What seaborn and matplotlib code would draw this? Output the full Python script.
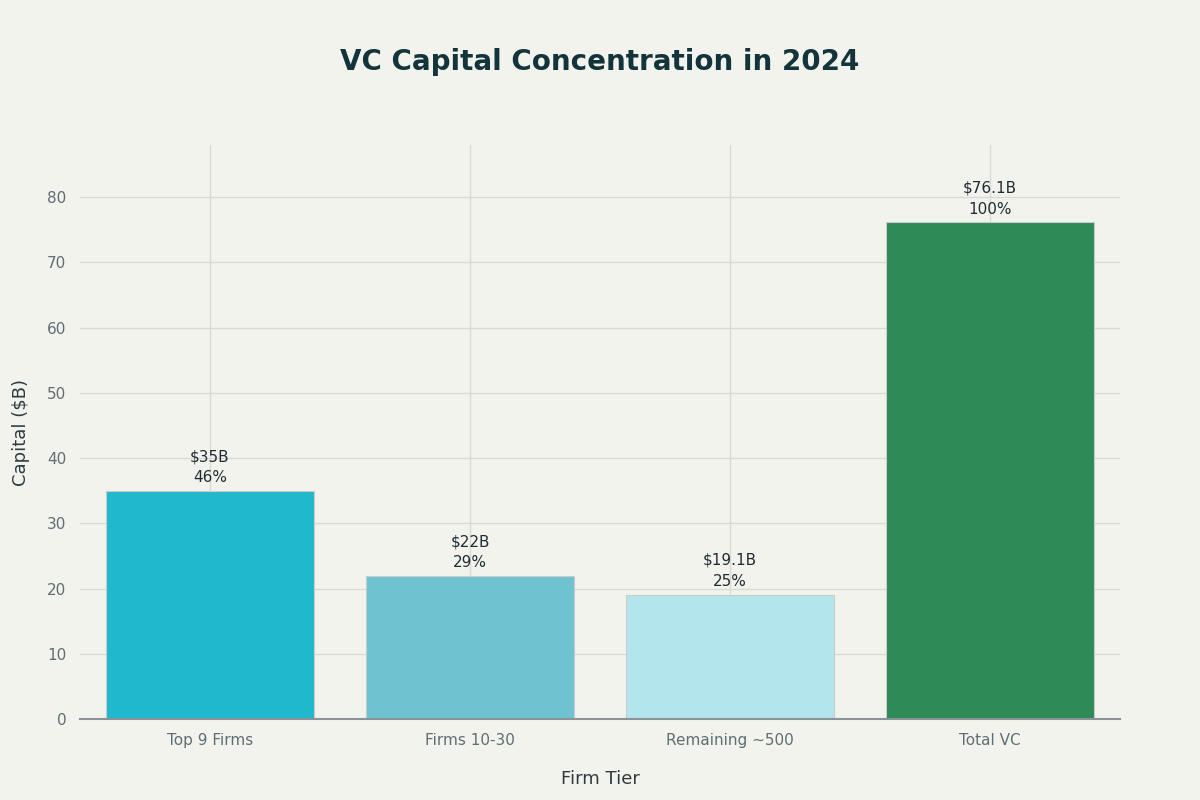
import matplotlib
matplotlib.use("Agg")
import matplotlib.pyplot as plt
import seaborn as sns
import pandas as pd

# Chart data
tiers = ["Top 9 Firms", "Firms 10-30", "Remaining ~500", "Total VC"]
capital = [35, 22, 19.1, 76.1]
value_labels = ["$35B", "$22B", "$19.1B", "$76.1B"]
pct_labels = ["46%", "29%", "25%", "100%"]
bar_colors = ["#1FB8CD", "#6FC2D0", "#B3E5EC", "#2E8B57"]

df = pd.DataFrame({"tier": tiers, "capital": capital})

bg = "#F3F3EE"
sns.set_theme(style="whitegrid")
plt.rcParams["font.family"] = ["DejaVu Sans"]

fig = plt.figure(figsize=(12, 8), dpi=100, facecolor=bg)
ax = fig.add_axes([0.0667, 0.101, 0.8666, 0.718])
ax.set_facecolor(bg)

sns.barplot(data=df, x="tier", y="capital", hue="tier", palette=bar_colors,
            legend=False, width=0.8, saturation=1, edgecolor="#C8CCCC",
            linewidth=0.8, ax=ax, zorder=2)

# Annotations above bars
for i, (v, lab, pct) in enumerate(zip(capital, value_labels, pct_labels)):
    ax.annotate(lab + "\n" + pct, (i, v), xytext=(0, 4), textcoords="offset points",
                ha="center", va="bottom", fontsize=11, color="#1F2D33",
                linespacing=1.5, zorder=3)

ax.set_ylim(0, 88)
ax.set_xlim(-0.5, 3.5)
ax.set_yticks(range(0, 81, 10))
ax.grid(True, axis="both", color="#DADAD5", linewidth=1, zorder=0)
ax.set_axisbelow(True)

for side in ["top", "right", "left"]:
    ax.spines[side].set_visible(False)
ax.spines["bottom"].set_color("#8A9395")
ax.spines["bottom"].set_linewidth(1.5)

ax.tick_params(axis="both", colors="#5E6E73", labelsize=11, length=0, pad=10)
ax.set_xlabel("Firm Tier", fontsize=13, color="#2D3B40", labelpad=16)
ax.set_ylabel("Capital ($B)", fontsize=13, color="#2D3B40", labelpad=12)

fig.suptitle("VC Capital Concentration in 2024", fontsize=20, fontweight="bold",
             color="#13343B", y=0.94)

fig.savefig("out.png", dpi=100, facecolor=bg)
